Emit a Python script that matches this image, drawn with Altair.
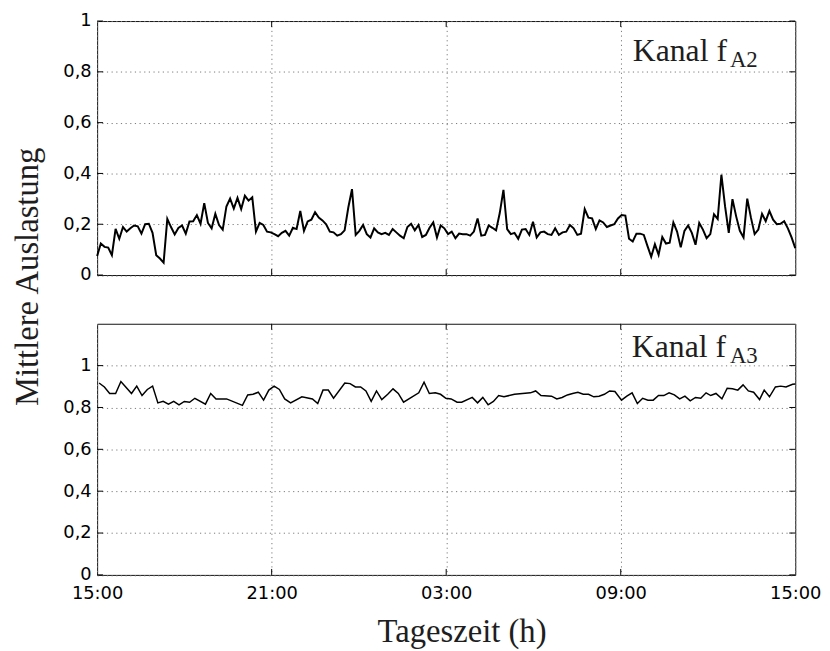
import json
import altair as alt
import pandas as pd

# ---------------- data ----------------
# Kanal f_A2 (top panel): mean utilisation, regularly sampled 15:00 -> 15:00
top_vals = [
    0.075, 0.124, 0.111, 0.108, 0.078, 0.182, 0.143, 0.189, 0.171, 0.184,
    0.195, 0.192, 0.163, 0.200, 0.202, 0.166, 0.078, 0.065, 0.049, 0.221,
    0.189, 0.160, 0.185, 0.195, 0.163, 0.211, 0.212, 0.236, 0.202, 0.283,
    0.205, 0.184, 0.241, 0.197, 0.179, 0.270, 0.301, 0.262, 0.304, 0.260,
    0.312, 0.293, 0.306, 0.171, 0.205, 0.197, 0.171, 0.168, 0.161,
    0.153, 0.166, 0.174, 0.155, 0.186, 0.181, 0.252, 0.174, 0.211, 0.218,
    0.247, 0.226, 0.215, 0.200, 0.171, 0.168, 0.155, 0.161, 0.176, 0.266,
    0.338, 0.158, 0.174, 0.197, 0.161, 0.148, 0.184, 0.168, 0.161, 0.166,
    0.158, 0.181, 0.168, 0.155, 0.145, 0.189, 0.202, 0.176, 0.197, 0.150,
    0.158, 0.186, 0.207, 0.148, 0.195, 0.184, 0.161,
    0.171, 0.145, 0.163, 0.161, 0.161, 0.155, 0.171, 0.223, 0.155, 0.158,
    0.195, 0.186, 0.176, 0.244, 0.335, 0.181, 0.161, 0.166, 0.143, 0.179,
    0.181, 0.158, 0.210, 0.148, 0.168, 0.171, 0.161, 0.158, 0.184, 0.158,
    0.168, 0.171, 0.197, 0.184, 0.158, 0.163, 0.260, 0.226, 0.223, 0.181,
    0.215, 0.207, 0.189, 0.195, 0.200, 0.223, 0.236,
    0.234, 0.143, 0.132, 0.163, 0.163, 0.158, 0.114, 0.072, 0.121, 0.080,
    0.150, 0.124, 0.127, 0.207, 0.171, 0.109, 0.174, 0.195, 0.166, 0.119,
    0.205, 0.179, 0.145, 0.161, 0.239, 0.221, 0.395, 0.270, 0.166, 0.299,
    0.231, 0.174, 0.148, 0.301, 0.226, 0.161, 0.179, 0.241, 0.212, 0.252,
    0.218, 0.200, 0.202, 0.212, 0.184, 0.148, 0.106,
]

# Kanal f_A3 (bottom panel): hours after 15:00 and values
bot_hours = [
    0.068, 0.25, 0.431, 0.636, 0.817, 0.999, 1.181, 1.362, 1.544, 1.726,
    1.907, 2.089, 2.27, 2.452, 2.634, 2.815, 2.997, 3.179, 3.36, 3.724,
    3.905, 4.087, 4.45, 4.995, 5.177, 5.358, 5.54, 5.722, 5.903, 6.085,
    6.266, 6.448, 6.652, 7.039, 7.402, 7.584, 7.765, 7.947, 8.128, 8.514,
    8.696, 8.878, 9.059, 9.241, 9.422, 9.604, 9.786, 9.99, 10.172, 10.353,
    10.535, 11.057, 11.239, 11.42, 11.625, 11.806, 11.988,
    12.17, 12.374, 12.533, 12.896, 13.078, 13.259, 13.441, 13.623, 13.804, 13.986,
    14.349, 14.894, 15.076, 15.258, 15.621, 15.802, 15.984, 16.166, 16.347, 16.529,
    16.711, 16.892, 17.074, 17.255, 17.437, 17.619, 17.8, 18.027, 18.209, 18.391,
    18.572, 18.754, 18.936, 19.117, 19.299, 19.481, 19.662, 19.844, 20.026, 20.207,
    20.389, 20.57, 20.752, 20.934, 21.093, 21.274, 21.479, 21.66, 21.842, 22.024,
    22.205, 22.387, 22.569, 22.773, 22.932, 23.113, 23.318, 23.5, 23.681, 23.908,
    24.0,
]
bot_vals = [
    0.917, 0.898, 0.867, 0.867, 0.924, 0.895, 0.867, 0.902, 0.857, 0.886,
    0.902, 0.822, 0.829, 0.816, 0.829, 0.813, 0.829, 0.825, 0.844, 0.816,
    0.867, 0.841, 0.841, 0.810, 0.860, 0.863, 0.873, 0.835, 0.883, 0.902,
    0.886, 0.841, 0.822, 0.851, 0.841, 0.819, 0.883, 0.883, 0.844, 0.917,
    0.914, 0.898, 0.898, 0.879, 0.829, 0.879, 0.838, 0.863, 0.889, 0.867,
    0.825, 0.870, 0.921, 0.867, 0.870, 0.863, 0.844,
    0.841, 0.825, 0.825, 0.848, 0.822, 0.848, 0.813, 0.829, 0.857, 0.851,
    0.863, 0.870, 0.879, 0.857, 0.854, 0.841, 0.848, 0.860, 0.867, 0.873,
    0.863, 0.863, 0.851, 0.854, 0.863, 0.879, 0.876, 0.835, 0.854, 0.870,
    0.819, 0.844, 0.835, 0.835, 0.857, 0.857, 0.870, 0.860, 0.841, 0.854,
    0.832, 0.848, 0.844, 0.870, 0.857, 0.867, 0.841, 0.892, 0.889, 0.883,
    0.908, 0.879, 0.873, 0.838, 0.883, 0.851, 0.898, 0.902, 0.898, 0.911,
    0.912,
]

x_tick_values = [0, 6, 12, 18, 24]
x_tick_labels = ["15:00", "21:00", "03:00", "09:00", "15:00"]
y_tick_values = [0, 0.2, 0.4, 0.6, 0.8, 1]
y_tick_labels = ["0", "0,2", "0,4", "0,6", "0,8", "1"]
panel_names = ["Kanal f", "Kanal f"]
panel_subs = ["A2", "A3"]
y_title = "Mittlere Auslastung"
x_title = "Tageszeit (h)"

# ---------------- layout constants ----------------
W = 705
H_TOP = 256.5
H_BOT = 253.6
TICK = 6
LABEL_FONT = "DejaVu Sans"
SERIF = "Liberation Serif"
TXT = "#1e1e1e"

x_label_expr = f"{json.dumps(x_tick_labels)}[round(datum.value/6)]"
y_label_expr = f"{json.dumps(y_tick_labels)}[round(datum.value*5)]"

n = len(top_vals)
top_df = pd.DataFrame({"h": [i * 24 / (n - 1) for i in range(n)], "v": top_vals})
bot_df = pd.DataFrame({"h": bot_hours, "v": bot_vals})


def panel(df, ymax, height, idx, stroke_w, bottom):
    xscale = alt.Scale(domain=[0, 24], nice=False, zero=False)
    yscale = alt.Scale(domain=[0, ymax], nice=False, zero=False)
    xaxis_kw = dict(
        values=x_tick_values, labelExpr=x_label_expr, grid=True,
        gridColor="#7a7a7a", gridDash=[1.2, 3.5], gridWidth=1,
        ticks=False, domain=False, labels=bottom,
        labelFont=LABEL_FONT, labelFontSize=18, labelColor="#000",
        labelPadding=10, labelOverlap=False, labelFlush=False,
    )
    if bottom:
        xaxis_kw.update(
            title=x_title, titleFont=SERIF, titleFontSize=33,
            titleFontWeight="normal", titleColor=TXT, titleX=368,
            titleY=67.7, titleAlign="center", titleBaseline="alphabetic",
            titleAngle=0,
        )
    else:
        xaxis_kw.update(title=None)
    yaxis_kw = dict(
        values=y_tick_values, labelExpr=y_label_expr, grid=True,
        gridColor="#7a7a7a", gridDash=[1.2, 3.5], gridWidth=1,
        ticks=False, domain=False, labelFont=LABEL_FONT, labelFontSize=18,
        labelColor="#000", labelPadding=6, labelFlush=False,
        labelOverlap=False,
    )
    if not bottom:
        yaxis_kw.update(
            title=y_title, titleFont=SERIF, titleFontSize=33,
            titleFontWeight="normal", titleColor=TXT, titleAngle=270,
            titleAlign="center", titleBaseline="alphabetic",
            titleX=-60, titleY=257.8,
        )
    else:
        yaxis_kw.update(title=None)

    line = alt.Chart(df).mark_line(color="#000", strokeWidth=stroke_w).encode(
        x=alt.X("h:Q", scale=xscale, axis=alt.Axis(**xaxis_kw)),
        y=alt.Y("v:Q", scale=yscale, axis=alt.Axis(**yaxis_kw)),
    )

    xt = pd.DataFrame({"h": x_tick_values[1:-1]})
    yt = pd.DataFrame({"v": [v for v in y_tick_values]})
    rule_kw = dict(color="#000", strokeWidth=1)
    xt_bot = alt.Chart(xt).mark_rule(**rule_kw).encode(
        x="h:Q", y=alt.value(height), y2=alt.value(height - TICK))
    xt_top = alt.Chart(xt).mark_rule(**rule_kw).encode(
        x="h:Q", y=alt.value(0), y2=alt.value(TICK))
    yt_left = alt.Chart(yt).mark_rule(**rule_kw).encode(
        y="v:Q", x=alt.value(0), x2=alt.value(TICK))
    yt_right = alt.Chart(yt).mark_rule(**rule_kw).encode(
        y="v:Q", x=alt.value(W), x2=alt.value(W - TICK))

    one = alt.Data(values=[{"a": 1}])
    if bottom:
        nx, ny, sx, sy = 540, 33.3, 639, 39.3
    else:
        nx, ny, sx, sy = 541, 40.8, 639, 46.8
    name = alt.Chart(one).mark_text(
        text=panel_names[idx], align="left", baseline="alphabetic",
        font=SERIF, fontSize=32, color=TXT,
    ).encode(x=alt.value(nx), y=alt.value(ny))
    sub = alt.Chart(one).mark_text(
        text=panel_subs[idx], align="left", baseline="alphabetic",
        font=SERIF, fontSize=23, color=TXT,
    ).encode(x=alt.value(sx), y=alt.value(sy))

    return alt.layer(line, xt_bot, xt_top, yt_left, yt_right, name, sub).properties(
        width=W, height=height
    )


top = panel(top_df, 1.0, H_TOP, 0, 2.0, False)
bot = panel(bot_df, 1.2, H_BOT, 1, 1.5, True)

chart = alt.vconcat(top, bot, spacing=48.7, bounds="flush").properties(
    padding={"left": 3, "top": 0, "right": 0, "bottom": 0},
    background="white",
).configure_view(stroke="#111", strokeWidth=1)

chart.save("out.html", embed_options={"renderer": "svg", "actions": False})
